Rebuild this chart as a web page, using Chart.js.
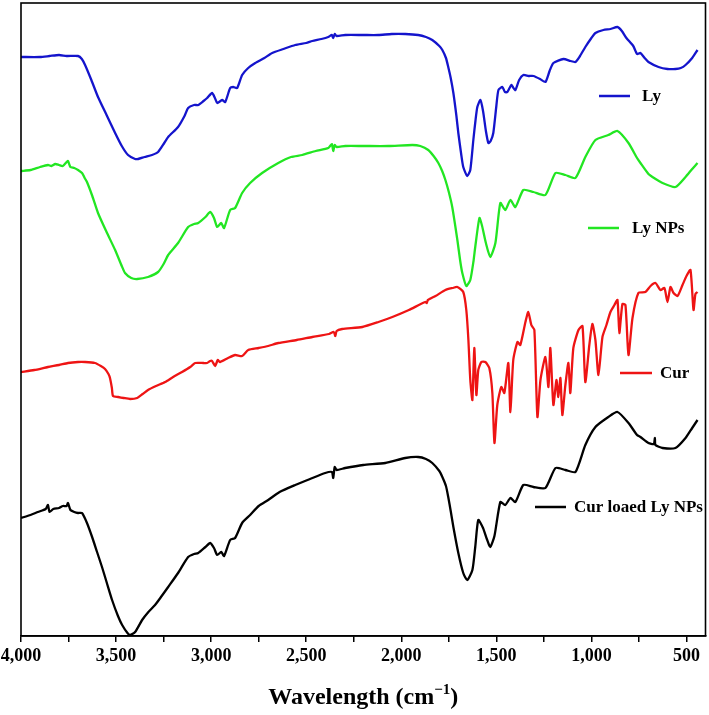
<!DOCTYPE html>
<html>
<head>
<meta charset="utf-8">
<script src="https://cdn.jsdelivr.net/npm/chart.js@4/dist/chart.umd.min.js"></script>
<style>
html,body{margin:0;padding:0;background:#fff;}
#wrap{width:709px;height:715px;position:relative;}
</style>
</head>
<body>
<div id="wrap"><canvas id="c" width="709" height="715"></canvas></div>
<script>
// ---- data (wavenumber cm-1, relative transmittance a.u.) ----
const seriesNames = ["Ly", "Ly NPs", "Cur", "Cur loaed Ly NPs"];
const seriesColors = ["#1414cc", "#22e622", "#ee1414", "#000000"];
const xTicks = [4000,3750,3500,3250,3000,2750,2500,2250,2000,1750,1500,1250,1000,750,500];

const lyWn = [4000,3900,3850,3800,3760,3700,3680,3663,3630,3595,3550,3505,3470,3437,3400,3384,3350,3311,3279,3250,3226,3174,3140,3121,3090,3068,3040,3021,2995,2980,2968,2942,2926,2900,2884,2863,2837,2805,2768,2720,2679,2620,2558,2500,2468,2420,2384,2365,2358,2350,2340,2295,2200,2121,2050,1979,1911,1870,1837,1800,1784,1765,1753,1740,1726,1710,1700,1685,1674,1653,1637,1621,1610,1600,1584,1570,1555,1542,1530,1516,1500,1489,1468,1455,1442,1421,1410,1400,1380,1358,1330,1305,1270,1242,1220,1200,1147,1110,1084,1060,1032,1000,979,937,900,863,840,816,780,760,742,720,700,647,600,558,530,505,470,442];
const lyT  = [579,579,580,581,580,580,577,571,556,539,521,503,490,481,477,477,479,481,484,492,499,509,520,528,531,531,535,538,543,538,533,536,534,548,549,548,561,568,573,578,583,587,591,593,595,597,599,601,598,602,600,601,601,601,602,602,601,599,596,590,586,578,569,558,543,520,503,482,469,460,466,496,515,529,536,525,505,493,495,503,530,546,549,544,544,551,548,546,556,561,560,560,557,554,565,573,577,575,574,580,589,598,603,606,607,609,605,598,590,582,583,578,574,569,567,567,568,571,578,586];

const npWn = [4000,3950,3900,3858,3840,3820,3800,3780,3760,3753,3740,3720,3700,3679,3665,3653,3625,3595,3550,3505,3470,3453,3420,3389,3332,3279,3250,3226,3174,3121,3090,3068,3030,3005,2985,2968,2947,2932,2900,2874,2837,2795,2732,2647,2580,2521,2450,2384,2365,2358,2350,2340,2295,2200,2068,1942,1900,1858,1830,1805,1785,1768,1750,1732,1705,1690,1679,1658,1637,1620,1611,1589,1575,1555,1532,1505,1479,1453,1426,1400,1358,1305,1242,1189,1137,1084,1032,979,911,863,805,760,742,700,679,626,558,505,470,442];
const npT  = [465,466,469,471,470,472,471,470,474,475,469,468,466,463,458,454,440,423,404,386,370,363,358,357,359,364,372,381,393,409,412,413,419,424,418,409,413,408,426,428,443,453,463,473,479,481,485,488,492,485,491,489,490,490,490,491,490,486,480,473,465,456,444,429,396,375,363,350,356,375,389,418,410,393,379,393,433,426,436,429,446,444,441,463,461,458,479,496,501,505,493,478,473,462,459,453,449,459,467,473];

const curWn = [4000,3930,3858,3800,3753,3700,3663,3611,3580,3558,3540,3532,3522,3516,3489,3460,3426,3389,3360,3332,3290,3242,3200,3153,3110,3084,3040,3021,3005,2995,2979,2965,2953,2911,2874,2837,2805,2750,2700,2647,2550,2468,2380,2355,2347,2340,2311,2205,2120,2047,1960,1874,1866,1860,1820,1768,1730,1705,1674,1658,1647,1637,1626,1616,1605,1595,1579,1558,1537,1521,1510,1495,1474,1458,1437,1426,1411,1389,1374,1347,1332,1316,1300,1284,1268,1242,1226,1216,1200,1184,1174,1163,1153,1137,1121,1111,1095,1068,1047,1032,1011,995,979,963,942,921,900,879,863,853,837,821,805,784,753,716,689,663,637,616,600,584,568,547,521,500,479,463,453,442];
const curT  = [264,266,269,271,273,274,274,273,270,267,262,258,248,240,239,238,237,238,242,246,250,254,259,264,269,273,273,273,275,275,270,276,274,278,281,280,286,288,290,293,296,299,302,304,300,305,307,309,314,319,326,334,333,336,340,346,348,349,344,326,296,256,236,288,241,266,274,274,268,243,193,231,249,243,273,224,276,294,291,314,324,311,306,219,256,279,249,288,231,256,239,258,221,251,273,243,288,306,310,254,291,312,296,261,299,311,324,331,336,303,332,331,281,318,343,344,350,353,346,348,334,349,343,340,351,360,366,326,342,344];

const clWn = [4000,3950,3911,3870,3858,3850,3830,3800,3780,3760,3753,3740,3720,3700,3679,3653,3626,3600,3574,3550,3521,3490,3468,3440,3426,3400,3363,3330,3295,3260,3226,3174,3121,3090,3068,3030,3005,2985,2968,2947,2932,2900,2874,2837,2795,2750,2700,2640,2558,2480,2400,2365,2358,2350,2340,2295,2200,2084,1979,1911,1870,1837,1800,1784,1765,1753,1740,1726,1700,1674,1653,1626,1611,1595,1570,1550,1532,1510,1479,1453,1426,1400,1358,1305,1242,1189,1137,1084,1032,979,911,863,805,760,742,700,672,666,663,626,558,505,470,442];
const clT  = [118,121,124,127,131,124,127,128,130,130,133,126,124,123,123,113,99,84,69,54,36,20,11,3,1,4,16,24,31,40,49,63,79,82,83,89,93,88,81,84,80,96,98,113,121,130,136,144,151,157,163,164,158,169,166,168,171,173,178,179,177,173,165,159,150,139,125,109,83,63,56,66,89,116,108,97,89,100,134,131,138,134,151,149,148,168,166,164,191,209,219,224,213,201,199,193,192,198,191,188,188,198,208,216];

const wnArrays = [lyWn, npWn, curWn, clWn];
const tArrays = [lyT, npT, curT, clT];

// legend placement (offsets from chart area left/top, px)
const legendPos = [
  {x1:578, x2:609, y:93, tx:621},
  {x1:567, x2:598, y:225, tx:611},
  {x1:599, x2:631, y:370, tx:639},
  {x1:514, x2:545, y:504, tx:553}
];

const datasets = seriesNames.map((n,i)=>({
  label:n,
  data: wnArrays[i].map((w,k)=>({x:w, y:tArrays[i][k]})),
  borderColor: seriesColors[i],
  backgroundColor: seriesColors[i],
  borderWidth: 2.3,
  pointRadius: 0,
  tension: 0.2,
  fill:false
}));

const SERIF = '"Liberation Serif","Times New Roman",serif';

const framePlugin = {
  id:'frame',
  afterDatasetsDraw(chart){
    const {ctx, chartArea:a} = chart;
    ctx.save();
    ctx.strokeStyle = '#000';
    ctx.lineWidth = 1.6;
    ctx.strokeRect(a.left, a.top, a.right-a.left, a.bottom-a.top);
    // legend
    ctx.font = 'bold 17px ' + SERIF;
    ctx.textBaseline = 'middle';
    ctx.textAlign = 'left';
    seriesNames.forEach((n,i)=>{
      const p = legendPos[i];
      ctx.strokeStyle = seriesColors[i];
      ctx.lineWidth = 2.5;
      ctx.beginPath();
      ctx.moveTo(a.left+p.x1, a.top+p.y);
      ctx.lineTo(a.left+p.x2, a.top+p.y);
      ctx.stroke();
      ctx.fillStyle = '#000';
      ctx.fillText(n, a.left+p.tx, a.top+p.y+1);
    });
    // axis title with superscript
    const main = 'Wavelength (cm';
    const sup = '\u22121';
    const tail = ')';
    const big = 'bold 24px ' + SERIF, small = 'bold 15px ' + SERIF;
    ctx.font = big; const w1 = ctx.measureText(main).width, w3 = ctx.measureText(tail).width;
    ctx.font = small; const w2 = ctx.measureText(sup).width;
    const total = w1+w2+w3;
    let x = (a.left+a.right)/2 - total/2;
    const y = 704;
    ctx.textBaseline = 'alphabetic';
    ctx.fillStyle = '#000';
    ctx.font = big; ctx.fillText(main, x, y); x += w1;
    ctx.font = small; ctx.fillText(sup, x, y-10); x += w2;
    ctx.font = big; ctx.fillText(tail, x, y);
    ctx.restore();
  }
};

new Chart(document.getElementById('c'), {
  type:'line',
  data:{datasets},
  plugins:[framePlugin],
  options:{
    responsive:false,
    animation:false,
    layout:{padding:{left:21, top:3, right:3.5, bottom:0}},
    plugins:{legend:{display:false}, tooltip:{enabled:false}, title:{display:false}},
    scales:{
      x:{
        type:'linear',
        min:400, max:4000, reverse:true,
        afterBuildTicks:s=>{ s.ticks = xTicks.map(v=>({value:v})); },
        afterFit:s=>{ s.height = 79; s.paddingLeft = 0; s.paddingRight = 0; },
        grid:{display:true, drawOnChartArea:false, drawTicks:true, tickLength:6, color:'#000', lineWidth:1.5},
        border:{display:true, color:'#000', width:1.6},
        ticks:{
          autoSkip:false, maxRotation:0, padding:4, color:'#000',
          font:{family:SERIF, size:18, weight:'bold'},
          callback:v=> (v%500===0 ? v.toLocaleString('en-US') : '')
        }
      },
      y:{
        display:false,
        min:0, max:633
      }
    }
  }
});
</script>
</body>
</html>
